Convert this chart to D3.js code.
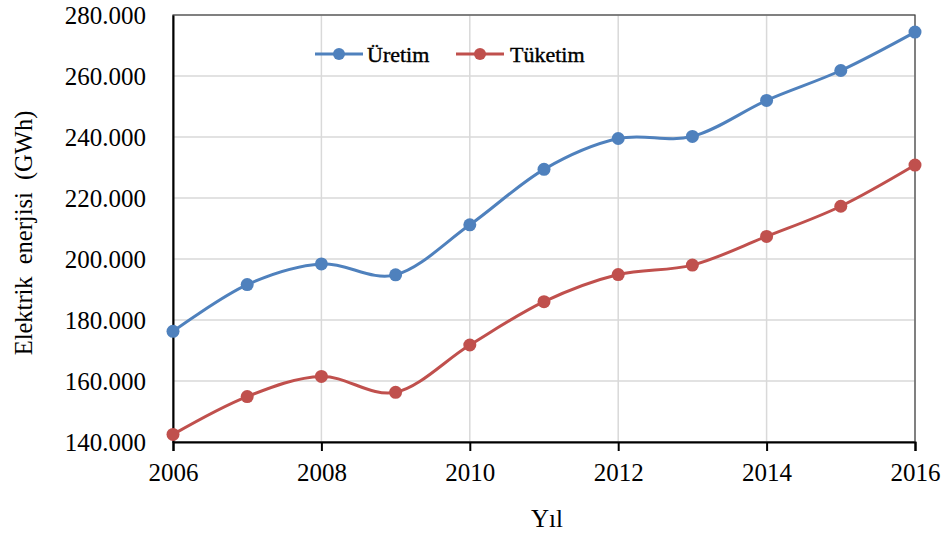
<!DOCTYPE html>
<html>
<head>
<meta charset="utf-8">
<script src="https://cdn.jsdelivr.net/npm/d3@7"></script>
<style>
body { margin: 0; background: #fff; }
svg text { font-family: "Liberation Serif", "Times New Roman", serif; fill: #000; }
</style>
</head>
<body>
<svg id="chart" width="949" height="536"></svg>
<script>
const years = [2006, 2007, 2008, 2009, 2010, 2011, 2012, 2013, 2014, 2015, 2016];
const uretim = [176.3, 191.6, 198.4, 194.8, 211.2, 229.4, 239.5, 240.2, 252.0, 261.8, 274.4];
const tuketim = [142.5, 154.9, 161.5, 156.3, 171.8, 186.0, 194.9, 198.0, 207.4, 217.3, 230.8];
const xTicks = [2006, 2008, 2010, 2012, 2014, 2016];
const yTicks = [140, 160, 180, 200, 220, 240, 260, 280];
const seriesNames = ["Üretim", "Tüketim"];
const seriesColors = ["#4F81BD", "#C0504D"];

const drawChart = (svg_name) => {
	let chart = d3.select(svg_name);
	let margin = {left: 173, top: 15, right: 34, bottom: 94};
	let width = 949, height = 536;

	let x = d3.scaleLinear()
		.domain([2006, 2016])
		.range([margin.left, width - margin.right]);
	let y = d3.scaleLinear()
		.domain([140, 280])
		.range([height - margin.bottom, margin.top]);

	// grid
	chart.append("g").selectAll("line").data(yTicks).join("line")
		.attr("x1", margin.left).attr("x2", width - margin.right)
		.attr("y1", d => y(d)).attr("y2", d => y(d))
		.style("stroke", "#d9d9d9").style("stroke-width", 1.5);
	chart.append("g").selectAll("line").data(xTicks).join("line")
		.attr("x1", d => x(d)).attr("x2", d => x(d))
		.attr("y1", margin.top).attr("y2", height - margin.bottom)
		.style("stroke", "#d9d9d9").style("stroke-width", 1.5);

	// frame
	chart.append("rect")
		.attr("x", margin.left).attr("y", margin.top)
		.attr("width", width - margin.right - margin.left)
		.attr("height", height - margin.bottom - margin.top)
		.style("fill", "none").style("stroke", "#404040").style("stroke-width", 1.2);

	// axes
	let x_axis = d3.axisBottom(x).tickValues(xTicks).tickFormat(d3.format("d")).tickSize(9).tickPadding(12);
	let gx = chart.append("g")
		.attr("transform", `translate(0,${height - margin.bottom})`)
		.call(x_axis);
	gx.select(".domain").style("stroke", "#000").style("stroke-width", 2);
	gx.selectAll(".tick line").style("stroke", "#000").style("stroke-width", 2);
	gx.selectAll("text").style("font-size", "25px").style("font-family", "Liberation Serif");

	let y_axis = d3.axisLeft(y).tickValues(yTicks).tickFormat(d => d3.format(".3f")(d)).tickSize(0).tickPadding(27);
	let gy = chart.append("g")
		.attr("transform", `translate(${margin.left},0)`)
		.call(y_axis);
	gy.select(".domain").style("stroke", "#000").style("stroke-width", 2);
	gy.selectAll("text").style("font-size", "25px").style("font-family", "Liberation Serif");

	// series
	let data = [uretim, tuketim];
	let line = d3.line()
		.x((d, i) => x(years[i]))
		.y(d => y(d))
		.curve(d3.curveCardinal.tension(0));
	data.forEach((vals, s) => {
		chart.append("path")
			.datum(vals)
			.attr("d", line)
			.style("fill", "none")
			.style("stroke", seriesColors[s])
			.style("stroke-width", 3);
		chart.append("g").selectAll("circle").data(vals).join("circle")
			.attr("cx", (d, i) => x(years[i]))
			.attr("cy", d => y(d))
			.attr("r", 6.5)
			.style("fill", seriesColors[s]);
	});

	// legend
	let legendX = [315, 456];
	seriesNames.forEach((name, s) => {
		let g = chart.append("g").attr("transform", `translate(${legendX[s]},54)`);
		g.append("line").attr("x1", 0).attr("x2", 48).attr("y1", 0).attr("y2", 0)
			.style("stroke", seriesColors[s]).style("stroke-width", 3);
		g.append("circle").attr("cx", 24).attr("cy", 0).attr("r", 6)
			.style("fill", seriesColors[s]);
		g.append("text").attr("x", 52 + s * 2).attr("y", 8)
			.style("font-size", "22px")
			.style("stroke", "#000").style("stroke-width", 0.4)
			.text(name);
	});

	// axis titles
	chart.append("text")
		.attr("transform", "rotate(-90)")
		.attr("x", -233).attr("y", 32)
		.style("font-size", "24.5px")
		.style("word-spacing", "6px")
		.style("text-anchor", "middle")
		.text("Elektrik enerjisi (GWh)");
	chart.append("text")
		.attr("x", 547).attr("y", 527)
		.style("font-size", "25px")
		.style("text-anchor", "middle")
		.text("Yıl");
}

drawChart("#chart");
</script>
</body>
</html>
